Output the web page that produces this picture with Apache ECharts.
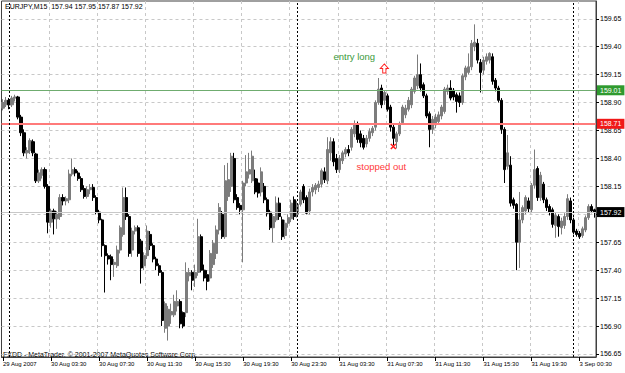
<!DOCTYPE html>
<html><head><meta charset="utf-8">
<script src="https://cdn.jsdelivr.net/npm/echarts@6/dist/echarts.min.js"></script>
<style>html,body{margin:0;padding:0;background:#fff}#c{width:625px;height:373px}</style>
</head><body><div id="c"></div>
<script>
// ---- data (EURJPY M15) ----
const daySegments = [
  { day: '29 Aug', startMin: 23 * 60 + 30, count: 2 },
  { day: '30 Aug', startMin: 0, count: 96 },
  { day: '31 Aug', startMin: 0, count: 92 },
  { day: '3 Sep', startMin: 0, count: 8 }
];
const opens = [
158.85,158.88,158.92,158.88,158.94,158.95,158.77,158.63,158.45,158.47,
158.55,158.44,158.20,158.25,158.30,158.15,157.83,157.93,157.86,157.88,
158.05,158.02,158.03,158.26,158.30,158.27,158.22,158.13,158.06,158.12,
158.14,158.05,157.92,157.85,157.62,157.53,157.52,157.45,157.44,157.58,
157.72,158.05,157.88,157.58,157.75,157.78,157.66,157.44,157.53,157.72,
157.62,157.50,157.44,157.38,156.88,156.90,157.00,157.00,157.08,157.12,
157.02,157.02,157.35,157.38,157.33,157.38,157.70,157.40,157.36,157.33,
157.45,157.55,157.76,157.90,157.70,158.06,158.15,158.40,158.05,157.98,
157.94,158.18,158.26,158.20,158.22,158.18,158.10,158.15,158.03,157.92,
157.78,157.85,158.00,157.85,157.71,157.82,157.86,158.03,157.90,157.99,
158.15,158.05,157.93,158.10,158.12,158.14,158.17,158.28,158.20,158.45,
158.55,158.40,158.30,158.38,158.44,158.48,158.50,158.62,158.70,158.62,
158.58,158.53,158.58,158.63,158.68,158.90,159.03,158.92,158.96,158.86,
158.68,158.55,158.62,158.72,158.79,158.84,158.88,159.00,159.05,159.15,
159.06,158.96,158.80,158.66,158.70,158.73,158.78,158.82,159.00,159.03,
159.01,158.97,158.96,158.90,159.13,159.17,159.22,159.40,159.43,159.26,
159.19,159.27,159.28,159.31,159.10,159.03,158.92,158.66,158.33,158.34,
158.03,157.99,157.65,157.85,157.93,158.02,157.94,158.16,158.31,158.05,
158.17,158.03,157.97,157.94,157.80,157.88,157.78,157.80,157.88,158.02,
157.85,157.75,157.73,157.71,157.76,157.87,157.97,157.94
];
const closes = [
158.90,158.92,158.88,158.94,158.95,158.77,158.63,158.45,158.47,158.56,
158.45,158.20,158.27,158.30,158.15,157.83,157.93,157.86,157.90,158.05,
158.02,158.04,158.26,158.30,158.27,158.22,158.12,158.06,158.12,158.14,
158.05,157.92,157.85,157.62,157.53,157.50,157.45,157.47,157.58,157.78,
158.05,157.88,157.55,157.75,157.78,157.55,157.42,157.53,157.75,157.62,
157.50,157.44,157.38,156.95,157.10,157.05,157.03,157.12,157.12,156.92,
156.90,157.38,157.38,157.31,157.38,157.70,157.40,157.33,157.30,157.55,
157.64,157.76,157.96,157.70,158.20,158.21,158.42,158.03,157.96,157.94,
158.18,158.28,158.30,158.42,158.10,158.09,158.28,158.03,157.91,157.78,
157.88,158.00,157.88,157.70,157.82,157.87,158.00,157.88,157.99,158.10,
158.03,157.91,158.10,158.14,158.16,158.17,158.29,158.21,158.48,158.55,
158.37,158.30,158.40,158.45,158.48,158.45,158.66,158.70,158.57,158.54,
158.50,158.58,158.64,158.67,158.90,159.02,158.88,158.99,158.84,158.68,
158.58,158.62,158.71,158.86,158.85,158.92,159.02,159.12,159.15,159.03,
158.96,158.78,158.66,158.75,158.77,158.79,158.86,159.02,159.03,158.94,
158.95,158.91,158.90,159.14,159.21,159.22,159.43,159.44,159.28,159.17,
159.28,159.31,159.34,159.09,159.03,158.92,158.66,158.30,158.45,158.00,
157.98,157.65,157.85,157.96,158.05,157.95,158.16,158.30,158.05,158.25,
158.03,157.96,157.92,157.81,157.89,157.79,157.84,157.88,158.04,157.85,
157.74,157.72,157.70,157.77,157.87,157.97,157.93,157.92
];
const lows = [
158.83,158.86,158.84,158.86,158.91,158.75,158.60,158.42,158.40,158.44,
158.42,158.18,158.18,158.22,158.13,157.73,157.78,157.72,157.77,157.85,
157.98,157.98,158.00,158.24,158.24,158.20,158.10,158.04,158.04,158.08,
158.02,157.90,157.82,157.52,157.20,157.45,157.31,157.34,157.42,157.55,
157.70,157.85,157.52,157.52,157.72,157.52,157.28,157.40,157.50,157.58,
157.47,157.40,157.35,156.90,156.84,156.77,156.92,156.98,157.03,156.88,
156.88,156.98,157.30,157.22,157.25,157.35,157.38,157.30,157.22,157.30,
157.42,157.50,157.72,157.68,157.68,158.02,158.10,158.00,157.94,157.90,
157.47,158.15,158.22,158.18,158.08,158.05,158.06,158.00,157.88,157.76,
157.65,157.83,157.85,157.67,157.68,157.78,157.83,157.85,157.87,157.97,
158.00,157.90,157.90,158.06,158.08,158.10,158.14,158.18,158.17,158.38,
158.33,158.27,158.27,158.35,158.41,158.42,158.47,158.59,158.54,158.50,
158.48,158.50,158.55,158.60,158.65,158.88,158.85,158.88,158.82,158.64,
158.52,158.49,158.60,158.70,158.76,158.82,158.85,158.98,159.02,159.00,
158.94,158.76,158.50,158.62,158.67,158.70,158.75,158.80,158.97,158.92,
158.92,158.81,158.86,158.88,159.10,159.15,159.19,159.36,159.25,158.99,
159.15,159.24,159.25,159.06,159.00,158.90,158.62,158.18,158.30,157.97,
157.95,157.40,157.42,157.82,157.90,157.92,157.91,158.13,158.02,158.02,
158.00,157.93,157.89,157.78,157.69,157.70,157.72,157.77,157.85,157.82,
157.72,157.70,157.68,157.69,157.74,157.85,157.91,157.87
];
const highs = [
158.93,158.95,158.94,158.96,158.97,158.96,158.79,158.66,158.50,158.58,
158.57,158.45,158.30,158.32,158.32,158.17,157.95,157.95,157.93,158.08,
158.08,158.06,158.30,158.40,158.32,158.29,158.24,158.16,158.15,158.17,
158.17,158.07,157.94,157.86,157.63,157.55,157.54,157.50,157.62,157.80,
158.14,158.14,157.90,157.78,157.80,157.80,157.68,157.56,157.80,157.75,
157.64,157.52,157.46,157.40,157.12,157.08,157.10,157.18,157.22,157.14,
157.03,157.47,157.42,157.40,157.45,157.86,157.72,157.45,157.40,157.58,
157.67,157.80,158.00,157.93,158.34,158.36,158.45,158.45,158.08,158.00,
158.20,158.43,158.45,158.47,158.30,158.22,158.32,158.18,158.05,157.94,
157.90,158.06,158.05,157.88,157.85,157.90,158.03,158.06,158.02,158.12,
158.17,158.07,158.13,158.17,158.18,158.20,158.31,158.32,158.59,158.59,
158.58,158.44,158.43,158.47,158.50,158.52,158.68,158.74,158.73,158.65,
158.61,158.61,158.67,158.69,158.92,159.12,159.06,159.01,158.98,158.88,
158.70,158.64,158.73,158.88,158.88,158.95,159.04,159.14,159.33,159.25,
159.08,158.98,158.82,158.78,158.80,158.82,158.88,159.04,159.06,159.10,
159.03,158.99,158.99,159.16,159.23,159.34,159.46,159.60,159.47,159.29,
159.31,159.34,159.35,159.34,159.12,159.05,158.94,158.68,158.61,158.42,
158.05,158.00,158.10,157.98,158.07,158.05,158.18,158.48,158.33,158.28,
158.19,158.05,157.99,157.96,157.92,157.90,157.87,157.91,158.08,158.05,
157.87,157.77,157.75,157.79,157.89,157.99,157.99,157.95
];
const yTicks = [156.65,156.90,157.15,157.40,157.65,157.90,158.15,158.40,158.65,158.90,159.15,159.40,159.65];
// 157.90 label sits under the current-price box in the reference, so it is not printed
const yLabels = [156.65,156.90,157.15,157.40,157.65,158.15,158.40,158.65,158.90,159.15,159.40,159.65];
const xTickCats  = ['29 Aug 23:30','30 Aug 03:30','30 Aug 07:30','30 Aug 11:30','30 Aug 15:30','30 Aug 19:30','30 Aug 23:30','31 Aug 03:30','31 Aug 07:30','31 Aug 11:30','31 Aug 15:30','31 Aug 19:30','3 Sep 00:30'];
const xTickTexts = ['29 Aug 2007','30 Aug 03:30','30 Aug 07:30','30 Aug 11:30','30 Aug 15:30','30 Aug 19:30','30 Aug 23:30','31 Aug 03:30','31 Aug 07:30','31 Aug 11:30','31 Aug 15:30','31 Aug 19:30','3 Sep 00:30'];
const daySeparators = ['30 Aug 00:00','31 Aug 00:00','3 Sep 00:00'];
const priceLines = [
  { price: 159.01, kind: 'entry' },
  { price: 158.71, kind: 'stop' },
  { price: 157.92, kind: 'bid' }
];
const notes = [
  { text: 'entry long', at: '31 Aug 04:45', price: 159.31, kind: 'green' },
  { text: 'stopped out', at: '31 Aug 07:00', price: 158.33, kind: 'red' }
];
const arrowMark = { at: '31 Aug 07:15', price: 159.205 };
const crossMark = { at: '31 Aug 08:00', price: 158.507 };
const titleText = 'EURJPY,M15  157.94 157.95 157.87 157.92';
const footerText = 'FXDD - MetaTrader, \u00A9 2001-2007 MetaQuotes Software Corp.';

// ---- build ----
function pad(n){ return (n < 10 ? '0' : '') + n; }
const cats = [];
daySegments.forEach(s => {
  for (let k = 0; k < s.count; k++) {
    const m = s.startMin + 15 * k;
    cats.push(s.day + ' ' + pad(Math.floor(m / 60)) + ':' + pad(m % 60));
  }
});
const ohlc = opens.map((o, i) => [o, closes[i], lows[i], highs[i]]);
const tickSet = new Set(xTickCats);
const tickText = {};
xTickCats.forEach((c, i) => tickText[c] = xTickTexts[i]);

const FONT = 'Liberation Sans';
const lineStyles = {
  entry: { color: '#6fac6f', width: 1, type: 'solid' },
  stop: { color: '#ff7a7a', width: 2, type: 'solid' },
  bid: { color: '#c8c8c8', width: 1, type: 'solid' }
};
const boxColors = { entry: '#2f9a2f', stop: '#f01818', bid: '#000000' };

const markLineData = [];
priceLines.forEach(p => {
  markLineData.push({
    yAxis: p.price,
    lineStyle: lineStyles[p.kind],
    label: {
      show: true, position: 'end', distance: 1,
      formatter: p.price.toFixed(2),
      color: '#fff', backgroundColor: boxColors[p.kind],
      padding: [2, 3, 1, 3], fontFamily: FONT, fontSize: 7
    }
  });
});
daySeparators.forEach(d => {
  markLineData.push({
    xAxis: d,
    lineStyle: { color: '#000', width: 1, type: [2, 2] },
    label: { show: false }
  });
});

const markPointData = [
  {
    coord: [arrowMark.at, arrowMark.price],
    symbol: 'path://M5,0 L10,5 L7,5 L7,10 L3,10 L3,5 L0,5 Z',
    symbolSize: [8, 9],
    itemStyle: { color: '#fff', borderColor: '#ff2020', borderWidth: 1 },
    label: { show: false }
  },
  {
    coord: [crossMark.at, crossMark.price],
    symbol: 'path://M0,0 L10,10 M10,0 L0,10',
    symbolSize: [5, 5],
    itemStyle: { color: 'none', borderColor: '#ff2020', borderWidth: 1.6 },
    label: { show: false }
  }
].concat(notes.map(n => ({
  coord: [n.at, n.price],
  symbol: 'rect', symbolSize: 1,
  itemStyle: { color: 'rgba(0,0,0,0)' },
  label: {
    show: true, position: 'inside', formatter: n.text,
    color: n.kind === 'green' ? '#3a9a3a' : '#ff3a3a',
    fontFamily: FONT, fontSize: 9.5
  }
})));

const chart = echarts.init(document.getElementById('c'), null, { renderer: 'svg' });
chart.setOption({
  animation: false,
  backgroundColor: '#ffffff',
  grid: { left: 1, right: 29, top: 1, bottom: 16, show: true, borderColor: '#404040', borderWidth: 1, containLabel: false },
  xAxis: {
    type: 'category', data: cats, boundaryGap: true,
    axisLine: { show: true, lineStyle: { color: '#404040' } },
    axisTick: { show: true, alignWithLabel: true, length: 4, lineStyle: { color: '#000' },
      interval: (i, v) => tickSet.has(v) },
    axisLabel: { show: true, interval: (i, v) => tickSet.has(v), formatter: v => tickText[v] || '',
      align: 'left', margin: 4, color: '#000', fontFamily: FONT, fontSize: 6 },
    splitLine: { show: true, interval: (i, v) => tickSet.has(v) && i > 0,
      lineStyle: { color: '#c8c8c8', type: [3, 3], width: 1 } }
  },
  yAxis: {
    type: 'value', position: 'right', scale: true, min: 156.623, max: 159.809,
    axisLine: { show: true, lineStyle: { color: '#404040' } },
    axisTick: { show: true, length: 3, customValues: yTicks, lineStyle: { color: '#000' } },
    axisLabel: { show: true, customValues: yLabels, formatter: v => v.toFixed(2), margin: 4,
      color: '#000', fontFamily: FONT, fontSize: 7 },
    splitLine: { show: true, lineStyle: { color: '#c8c8c8', type: [3, 3], width: 1 } }
  },
  graphic: [
    { type: 'text', left: 5, top: 3, style: { text: titleText, fill: '#000', font: '7px "Liberation Sans"' } },
    { type: 'text', left: 3, top: 351, style: { text: footerText, fill: '#000', font: '7px "Liberation Sans"' } }
  ],
  series: [{
    type: 'candlestick',
    data: ohlc,
    barWidth: 2.6,
    itemStyle: { color: '#7c7c7c', color0: '#000000', borderColor: '#7c7c7c', borderColor0: '#000000', borderWidth: 1 },
    markLine: { silent: true, symbol: ['none', 'none'], animation: false, data: markLineData },
    markPoint: { silent: true, animation: false, data: markPointData }
  }]
});
</script>
</body></html>
